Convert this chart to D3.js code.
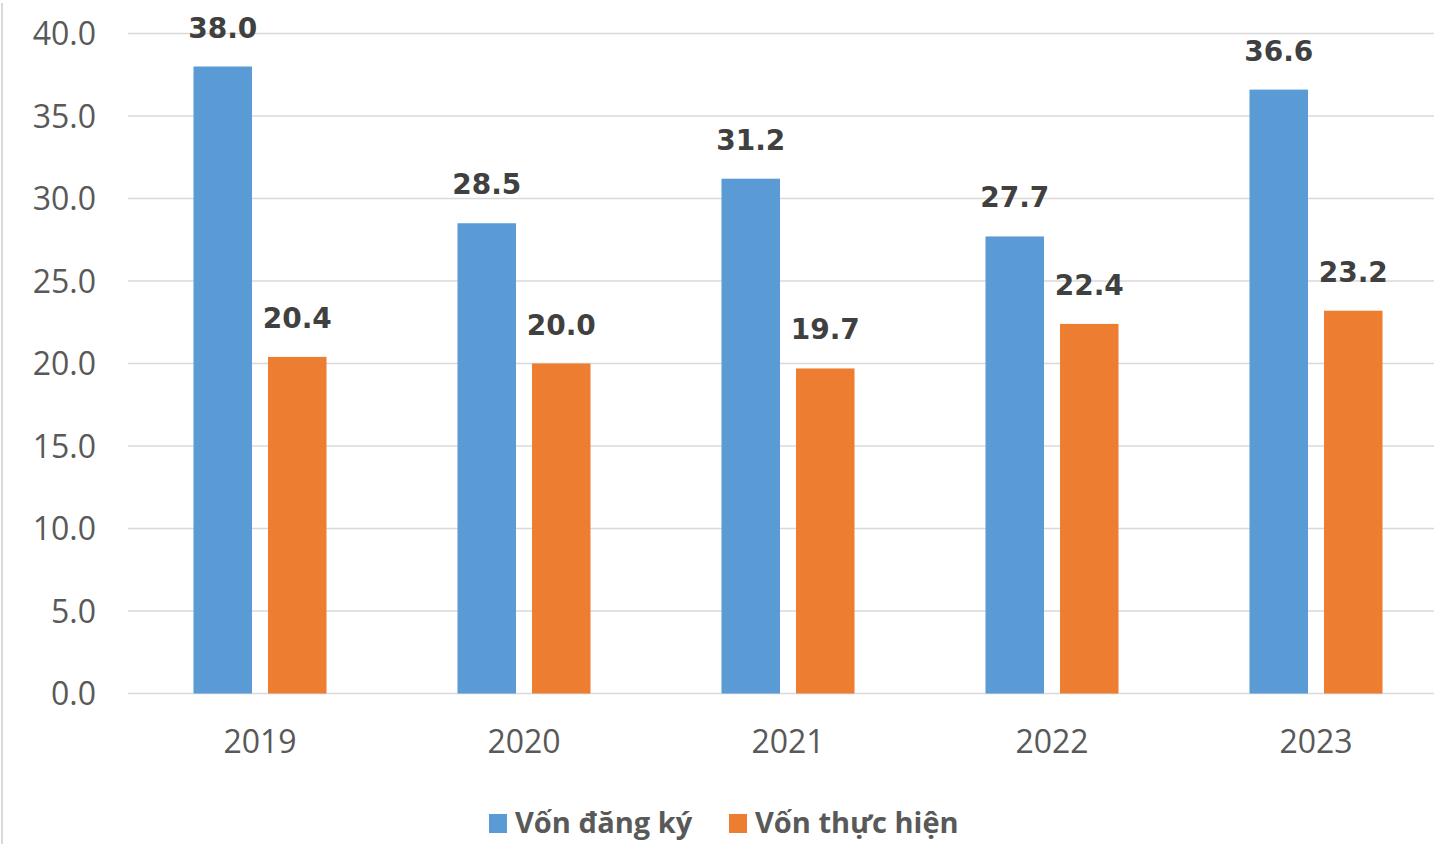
<!DOCTYPE html>
<html>
<head>
<meta charset="utf-8">
<script src="https://cdn.jsdelivr.net/npm/d3@7"></script>
<style>
  html, body { margin: 0; padding: 0; background: #fff; }
  svg { display: block; }
</style>
</head>
<body>
<svg id="chart" width="1434" height="844"></svg>
<script>
// Years on the category axis
const years = ["2019", "2020", "2021", "2022", "2023"];
// Series names (legend order)
const seriesNames = ["Vốn đăng ký", "Vốn thực hiện"];
// Registered capital
const registered = [38.0, 28.5, 31.2, 27.7, 36.6];
// Disbursed capital
const disbursed = [20.4, 20.0, 19.7, 22.4, 23.2];
// Value axis ticks
const yTicks = [0, 5, 10, 15, 20, 25, 30, 35, 40];

const colors = ["#5B9BD5", "#ED7D31"];
const seriesValues = [registered, disbursed];

const svg = d3.select("#chart");
const W = 1434, H = 844;

// left frame edge
svg.append("line")
  .attr("x1", 2).attr("x2", 2).attr("y1", 3).attr("y2", H)
  .attr("stroke", "#d9d9d9").attr("stroke-width", 2);

const plotLeft = 128, plotRight = 1448;
const y = d3.scaleLinear().domain([0, 40]).range([693.5, 33.5]);
const x0 = d3.scaleBand().domain(years).range([plotLeft, plotRight]).padding(0);
const groupW = 133;
const x1 = d3.scaleBand().domain(seriesNames)
  .range([(x0.step() - groupW) / 2, (x0.step() + groupW) / 2])
  .paddingInner(0.215).paddingOuter(0);

// horizontal gridlines
svg.append("g").selectAll("line")
  .data(yTicks)
  .join("line")
  .attr("x1", plotLeft).attr("x2", W)
  .attr("y1", d => y(d)).attr("y2", d => y(d))
  .attr("stroke", "#d9d9d9").attr("stroke-width", 1.5);

// y tick labels
svg.append("g").selectAll("text")
  .data(yTicks)
  .join("text")
  .attr("x", 96).attr("y", d => y(d))
  .attr("dy", "0.36em")
  .attr("text-anchor", "end")
  .attr("font-family", "'Open Sans', sans-serif")
  .attr("font-size", 32)
  .attr("fill", "#595959")
  .text(d => d.toFixed(1));

// bars and value labels
const rows = [];
years.forEach((yr, i) => {
  seriesNames.forEach((s, j) => rows.push({ year: yr, series: s, j, value: seriesValues[j][i] }));
});

const g = svg.append("g");
g.selectAll("rect")
  .data(rows)
  .join("rect")
  .attr("x", d => x0(d.year) + x1(d.series))
  .attr("width", x1.bandwidth())
  .attr("y", d => y(d.value))
  .attr("height", d => y(0) - y(d.value))
  .attr("fill", d => colors[d.j]);

g.selectAll("text")
  .data(rows)
  .join("text")
  .attr("x", d => x0(d.year) + x1(d.series) + x1.bandwidth() / 2)
  .attr("y", d => y(d.value) - 29)
  .attr("text-anchor", "middle")
  .attr("font-family", "'DejaVu Sans', sans-serif")
  .attr("font-weight", "bold")
  .attr("font-size", 28)
  .attr("fill", "#404040")
  .text(d => d.value.toFixed(1));

// x category labels
svg.append("g").selectAll("text")
  .data(years)
  .join("text")
  .attr("x", d => x0(d) + x0.bandwidth() / 2)
  .attr("y", 753)
  .attr("text-anchor", "middle")
  .attr("font-family", "'Open Sans', sans-serif")
  .attr("font-size", 32)
  .attr("fill", "#595959")
  .text(d => d);

// legend
const legendItems = [
  { name: seriesNames[0], color: colors[0], x: 489 },
  { name: seriesNames[1], color: colors[1], x: 729 }
];
const lg = svg.append("g").selectAll("g")
  .data(legendItems)
  .join("g")
  .attr("transform", d => `translate(${d.x},0)`);
lg.append("rect")
  .attr("x", 0).attr("y", 814).attr("width", 18).attr("height", 19)
  .attr("fill", d => d.color);
lg.append("text")
  .attr("x", 26).attr("y", 833)
  .attr("font-family", "'Open Sans', sans-serif")
  .attr("font-weight", 700)
  .attr("font-size", 29)
  .attr("fill", "#595959")
  .text(d => d.name);
</script>
</body>
</html>
